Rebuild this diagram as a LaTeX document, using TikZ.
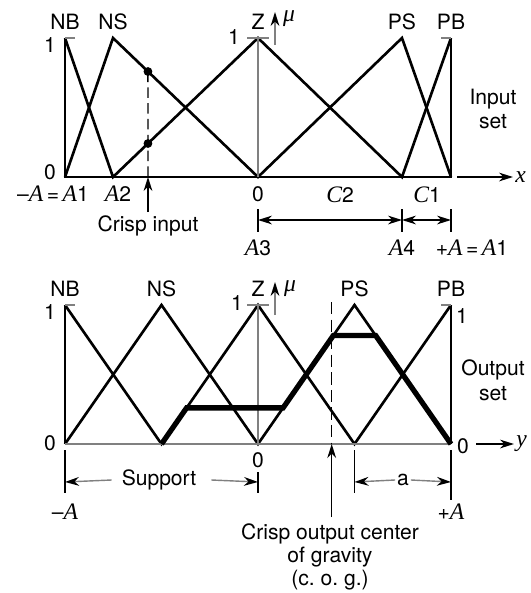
\documentclass[tikz,border=0pt]{standalone}
\usepackage{fontspec}
\setmainfont{TeX Gyre Heros}
\newfontfamily\serifit{Liberation Serif}[Scale=1.12]
\newcommand\sym[1]{{\serifit\itshape #1}}
\usetikzlibrary{arrows.meta, calc}

\begin{document}
\begin{tikzpicture}[x=0.02cm, y=-0.02cm, >={Stealth[length=8pt, width=5pt]},
    font=\fontsize{12}{14}\selectfont,
    member/.style={line width=1.5pt, line join=miter},
    output/.style={line width=3pt, line join=miter},
    frame/.style={line width=0.8pt},
    greyline/.style={gray, line width=0.9pt},
    dim/.style={line width=0.8pt},
    tipblack/.style={-{Stealth[length=8pt, width=5pt, black]}},
    lbl/.style={inner sep=1pt}]
    \useasboundingbox (0,0) rectangle (531,593);

    % Input set
    \foreach \n/\x in {nb/65, ns/113, z/258, ps/402, pb/451} {
        \coordinate (i\n1) at (\x,38);
        \coordinate (i\n0) at (\x,177);
    }
    \draw[member] (inb1) -- (ins0) -- (iz1) -- (ips0) -- (ipb1);
    \draw[member] (inb0) -- (ins1) -- (iz0) -- (ips1) -- (ipb0);
    \draw[frame] (inb1) -- (inb0) -- (ipb0) -- (ipb1);
    \draw[greyline] (iz1) -- (iz0);
    \draw[greyline] (inb1) -- +(10,0);
    \draw[greyline] ($(iz1)+(-11,0)$) -- +(22,0);
    \draw[greyline] (ipb1) -- +(-10,0);
    \foreach \n/\t in {nb/NB, ns/NS, z/Z, ps/PS, pb/PB}
        \node[lbl] (tag-i\n) at ($(i\n1)+(0,-16)$) {\t};
    \node[lbl] (one-i) at (50,45) {1};
    \node[lbl] (zero-i) at (50,172) {0};
    \node[lbl] (one-iz) at (234,37) {1};

    % mu axis
    \coordinate (mu-i0) at (275,45);
    \coordinate (mu-i1) at (275,12);
    \draw[greyline, tipblack] (mu-i0) -- (mu-i1);
    \node[lbl] (mu-i) at (289,19) {\sym{μ}};

    % x axis
    \coordinate (x-i0) at (457,177);
    \draw[frame, ->] (x-i0) -- +(56,0) node[right, inner sep=1pt] (x-i) {\sym{x}};

    % Crisp input
    \coordinate (dot-a) at ($(ins1)!0.241!(iz0)$);
    \coordinate (dot-b) at ($(ins0)!0.241!(iz1)$);
    \coordinate (crisp-i) at (148,177);
    \draw[frame, dash pattern=on 6pt off 3pt] (dot-a) -- (crisp-i);
    \fill (dot-a) circle (2.5pt);
    \fill (dot-b) circle (2.5pt);
    \node[lbl] (crisp-in) at (148,226) {Crisp input};
    \draw[frame, ->] (crisp-in.north |- 0,212) -- (crisp-i);

    % Input labels
    \node[lbl] (lbl-a1) at (53,194) {–\sym{A}\,=\,\sym{A}1};
    \node[lbl] (lbl-a2) at (118,194) {\sym{A}2};
    \node[lbl] (lbl-0i) at (258,194) {0};
    \node[lbl] (lbl-c2) at (340,195) {\sym{C}2};
    \node[lbl] (lbl-c1) at (427,195) {\sym{C}1};
    \foreach \n in {z, ps, pb}
        \draw[dim] ($(i\n0)+(0,32)$) coordinate (d\n) -- +(0,23);
    \draw[dim, <->] ($(dz)+(0,11)$) -- ($(dps)+(0,11)$);
    \draw[dim, <->] ($(dps)+(0,11)$) -- ($(dpb)+(0,11)$);
    \node[lbl] (lbl-a3) at (258,248) {\sym{A}3};
    \node[lbl] (lbl-a4) at (402,248) {\sym{A}4};
    \node[lbl] (lbl-a1r) at (472,248) {+\sym{A}\,=\,\sym{A}1};
    \node[align=center, inner sep=1pt] (in-set) at (493,109) {Input\\set};

    % Output set
    \foreach \n/\x in {nb/65, ns/161.5, z/258, ps/354.5, pb/451} {
        \coordinate (o\n1) at (\x,305);
        \coordinate (o\n0) at (\x,444);
    }
    \draw[member] (onb1) -- (ons0) -- (oz1) -- (ops0) -- (opb1);
    \draw[member] (onb0) -- (ons1) -- (oz0) -- (ops1) -- (opb0);
    \draw[frame] (onb1) -- (onb0);
    \draw[frame] (opb1) -- (opb0);
    \draw[greyline] (onb0) -- (opb0);
    \draw[greyline] (oz1) -- (oz0);
    \draw[greyline] (onb1) -- +(10,0);
    \draw[greyline] ($(oz1)+(-11,0)$) -- +(22,0);
    \draw[greyline] (opb1) -- +(-10,0);
    \foreach \n/\t in {nb/NB, ns/NS, z/Z, ps/PS, pb/PB}
        \node[lbl] (tag-o\n) at ($(o\n1)+(0,-16)$) {\t};
    \node[lbl] (one-o) at (50,312) {1};
    \node[lbl] (zero-o) at (50,443) {0};
    \node[lbl] (one-oz) at (237,303) {1};
    \node[lbl] (one-opb) at (462,316) {1};
    \node[lbl] (zero-opb) at (463,446) {0};

    % mu and y axes
    \coordinate (mu-o0) at (275,315);
    \coordinate (mu-o1) at (275,282);
    \draw[greyline, tipblack] (mu-o0) -- (mu-o1);
    \node[lbl] (mu-o) at (290,289) {\sym{μ}};
    \coordinate (y-o0) at (476,444);
    \draw[frame, ->] (y-o0) -- +(38,0) node[right, inner sep=1pt] (y-o) {\sym{y}};

    % Clipped output
    \coordinate (cut-a) at ($(ons0)!0.26!(oz1)$);
    \coordinate (cut-b) at ($(oz0)!0.26!(ops1)$);
    \coordinate (cut-c) at ($(oz0)!0.78!(ops1)$);
    \coordinate (cut-d) at ($(opb0)!0.78!(ops1)$);
    \draw[output] (ons0) -- (cut-a) -- (cut-b) -- (cut-c) -- (cut-d) -- (opb0);

    % Crisp output
    \coordinate (cog) at (331.7,444);
    \draw[frame, dash pattern=on 7pt off 3pt] (331.7,302) -- (cog);
    \node[align=center, inner sep=1pt] (crisp-out) at (330,557)
        {Crisp output center\\[-1pt]of gravity\\[-1pt](c.\ o.\ g.)};
    \draw[frame, ->] (331.7,517) -- (cog);

    % Support and a
    \draw[dim] ($(onb0)+(0,6)$) -- +(0,43);
    \draw[dim] ($(oz0)+(0,28)$) -- +(0,21);
    \draw[dim] ($(ops0)+(0,6)$) -- +(0,43);
    \draw[dim] ($(opb0)+(0,6)$) -- +(0,50);
    \node[lbl] (support) at (159,480) {Support};
    \draw[dim, gray, tipblack] (support.west) ++(-8,0) -- (65,482);
    \draw[dim, gray, tipblack] (support.east) ++(13,0) -- (258,482);
    \node[lbl] (dist-a) at (403,480) {a};
    \draw[dim, gray, tipblack] (dist-a.west) -- (354.5,482);
    \draw[dim, gray, tipblack] (dist-a.east) -- (451,482);
    \node[lbl] (lbl-0o) at (258,460) {0};
    \node[lbl] (lbl-ma) at (65,512) {–\sym{A}};
    \node[lbl] (lbl-pa) at (451,512) {+\sym{A}};
    \node[align=center, inner sep=1pt] (out-set) at (493,380) {Output\\set};
\end{tikzpicture}
\end{document}
